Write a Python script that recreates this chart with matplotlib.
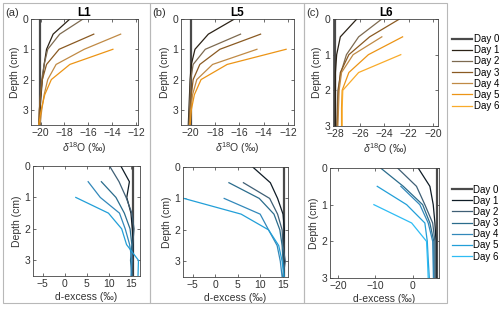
import numpy as np
import matplotlib
matplotlib.use('Agg')
import matplotlib.pyplot as plt
from matplotlib.patches import Rectangle

nan = np.nan
days = ['Day 0', 'Day 1', 'Day 2', 'Day 3', 'Day 4', 'Day 5', 'Day 6']
brown = ['#4a4a4a', '#2b2216', '#7d6a50', '#8a5a22', '#c08a45', '#ec9415', '#f9ab2a']
blue = ['#4a4a4a', '#0f1c26', '#3f5f75', '#2a6c8c', '#3288ba', '#229fd8', '#2ebcf4']

# depths (cm)
depth_L1 = [0, 0.5, 1, 1.5, 2, 2.5, 3, 3.5]
depth_L5 = [0, 0.5, 1, 1.5, 2, 2.5, 3, 3.5]
depth_L6 = [0, 0.5, 1, 1.5, 2, 2.5, 3]

# L1 d18O (permil), day 0 .. day 5
d18O_L1 = [
    [-20.05, -20.05, -20.05, -20.05, -20.05, -20.05, -20.05, -20.05],
    [-17.55, -18.95, -19.5, -19.7, -19.85, -19.95, -20.05, -20.1],
    [-16.45, -18.4, -19.4, -19.7, -19.9, -20.0, -20.1, -20.15],
    [nan, -15.55, -18.45, -19.5, -19.85, -20.0, -20.1, -20.15],
    [nan, -13.3, -16.35, -18.7, -19.4, -19.7, -19.9, -20.05],
    [nan, nan, -13.95, -17.55, -19.1, -19.65, -19.95, -20.15],
]
dex_L1 = [
    [15.5, 15.5, 15.5, 15.5, 15.5, 15.5, 15.5, 15.5],
    [12.7, 14.65, 14.05, 15.0, 15.3, 15.5, 15.4, 15.4],
    [10.15, 12.3, 13.9, 15.2, 15.7, 15.4, 15.3, 15.3],
    [nan, 8.3, 11.6, 13.5, 14.8, 15.2, 14.9, 15.2],
    [nan, 5.3, 8.05, 12.4, 13.7, 14.7, 15.2, 15.0],
    [nan, nan, 2.5, 9.9, 12.9, 14.0, 16.7, 16.6],
]

# L5
d18O_L5 = [
    [-20.0, -20.0, -20.0, -20.0, -20.0, -20.0, -20.0, -20.0],
    [-16.4, -18.55, -19.65, -19.95, -20.05, -20.1, -20.15, -20.2],
    [nan, -15.9, -18.8, -19.8, -20.0, -20.05, -20.1, -20.15],
    [nan, -14.25, -17.6, -19.25, -19.8, -19.95, -20.05, -20.1],
    [nan, nan, -14.55, -18.2, -19.5, -19.85, -20.0, -20.1],
    [nan, nan, -12.15, -17.0, -19.15, -19.7, -19.95, -20.05],
]
dex_L5 = [
    [15.15, 15.15, 15.15, 15.15, 15.15, 15.15, 15.15, 15.15],
    [8.3, 12.2, 13.8, 15.0, 15.3, 15.1, 15.3, 15.0],
    [nan, 6.25, 12.05, 13.8, 14.8, 15.0, 15.5, 15.0],
    [nan, 3.05, 9.75, 13.0, 14.3, 14.8, 15.0, 15.3],
    [nan, nan, 2.0, 9.95, 11.8, 13.7, 14.4, 14.8],
    [nan, nan, -6.9, 5.75, 11.8, 14.05, 14.8, 15.2],
]

# L6, day 0 .. day 6
d18O_L6 = [
    [-28.0, -28.0, -28.0, -28.0, -28.0, -28.0, -28.0],
    [-26.25, -27.6, -27.9, -28.0, -28.0, -28.0, -28.0],
    [-24.2, -26.1, -27.1, -27.55, -27.8, -27.85, -27.9],
    [-22.75, -25.2, -26.9, -27.6, -27.75, -27.8, -27.85],
    [nan, -24.2, -26.55, -27.5, -27.7, -27.75, -27.8],
    [nan, -22.5, -25.3, -26.9, -27.45, -27.5, -27.5],
    [nan, nan, -22.65, -26.1, -27.4, -27.45, -27.45],
]
dex_L6 = [
    [6.45, 6.45, 6.45, 6.45, 6.45, 6.45, 6.45],
    [1.5, 4.65, 5.55, 6.0, 6.3, 6.3, 6.3],
    [-4.05, 1.05, 3.3, 5.4, 6.0, 6.0, 6.0],
    [-8.6, -2.5, 2.7, 4.65, 5.7, 5.7, 5.7],
    [nan, -3.15, 1.95, 4.2, 5.4, 5.5, 5.6],
    [nan, -9.5, -1.6, 3.3, 3.95, 4.2, 4.5],
    [nan, nan, -10.4, -0.25, 3.75, 4.0, 4.2],
]

plt.rcParams['font.family'] = ['Liberation Sans', 'DejaVu Sans']
plt.rcParams['mathtext.fontset'] = 'custom'
plt.rcParams['mathtext.rm'] = 'Liberation Sans'
plt.rcParams['mathtext.it'] = 'Liberation Sans:italic'

W, H = 500, 314
fig = plt.figure(figsize=(W / 100, H / 100), dpi=100)
FS = 7.5
tc = '#333333'


def px_axes(l, t, r, b):
    return fig.add_axes([l / W, 1 - b / H, (r - l) / W, (b - t) / H])


def profile(ax, depth, series, colors, xlim, xticks, ylim, xlabel):
    for i, vals in enumerate(series):
        if i == 0:
            ax.plot(vals, depth, color=colors[0], lw=1.6, label=days[0])
        else:
            ax.plot(vals, depth, color=colors[i], lw=0.9, label=days[i])
    ax.set_xlim(*xlim)
    ax.set_ylim(ylim, 0)
    ax.set_xticks(xticks)
    ax.set_yticks([t for t in [0, 1, 2, 3] if t <= ylim])
    ax.tick_params(direction='in', length=2, width=0.5, labelsize=FS,
                   colors=tc, pad=2, top=True, right=True)
    for s in ax.spines.values():
        s.set_linewidth(0.6)
        s.set_color('#444444')
    ax.set_xlabel(xlabel, fontsize=FS, color=tc, labelpad=2)
    ax.set_ylabel('Depth (cm)', fontsize=FS, color=tc, labelpad=2)


d18_lab = r'$\delta^{18}$O (‰)'
dex_lab = 'd-excess (‰)'
leg_kw = dict(loc='center left', frameon=False, fontsize=7, handlelength=2.0,
              handletextpad=0.2, labelspacing=0.12, borderpad=0, borderaxespad=0)

# top row
ax = px_axes(31, 19, 138, 125)
profile(ax, depth_L1, d18O_L1, brown, (-20.8, -11.85), [-20, -18, -16, -14, -12], 3.5, d18_lab)
ax.set_title('L1', fontsize=8.5, fontweight='bold', pad=2)
ax = px_axes(181, 19, 294, 125)
profile(ax, depth_L5, d18O_L5, brown, (-20.8, -11.5), [-20, -18, -16, -14, -12], 3.5, d18_lab)
ax.set_title('L5', fontsize=8.5, fontweight='bold', pad=2)
ax = px_axes(333, 19, 438, 126)
profile(ax, depth_L6, d18O_L6, brown, (-28.2, -19.6), [-28, -26, -24, -22, -20], 3.0, d18_lab)
ax.set_title('L6', fontsize=8.5, fontweight='bold', pad=2)
ax.legend(bbox_to_anchor=(1.135, 0.5), **leg_kw)

# bottom row
ax = px_axes(33, 166, 140, 276)
profile(ax, depth_L1, dex_L1, blue, (-7.2, 17.05), [-5, 0, 5, 10, 15], 3.5, dex_lab)
ax = px_axes(183, 167, 288, 277)
profile(ax, depth_L5, dex_L5, blue, (-7.1, 16.1), [-5, 0, 5, 10, 15], 3.5, dex_lab)
ax = px_axes(330, 168, 439, 278)
profile(ax, depth_L6, dex_L6, blue, (-22.2, 7.1), [-20, -10, 0], 3.0, dex_lab)
ax.legend(bbox_to_anchor=(1.12, 0.5), **leg_kw)

# panel letters
for x, lab in [(5, '(a)'), (152, '(b)'), (306, '(c)')]:
    fig.text(x / W, 1 - 13 / H, lab, fontsize=FS + 0.5, color=tc, va='center')

# light grey frames around each column
for l, r in [(3, 150), (150, 304), (304, 447)]:
    fig.patches.append(Rectangle((l / W, 1 - 303 / H), (r - l) / W, 300 / H,
                                 transform=fig.transFigure, fill=False,
                                 edgecolor='#b8b8b8', lw=0.8))

fig.savefig('out.png', dpi=100)
